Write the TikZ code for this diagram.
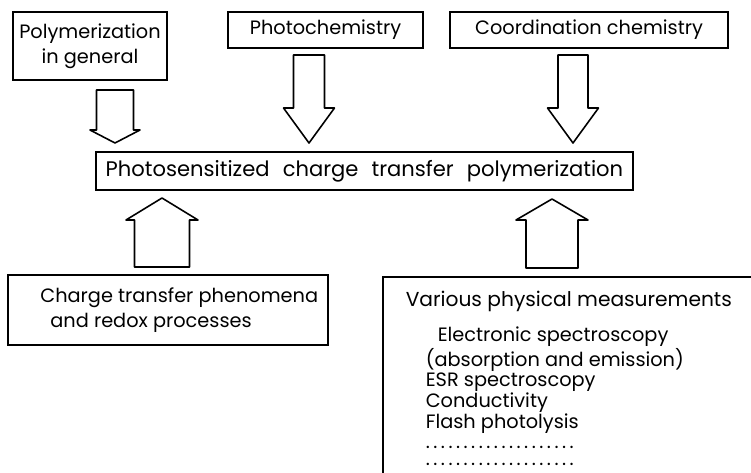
\documentclass[tikz,border=0pt]{standalone}
\usepackage{fontspec}
\setmainfont{Poppins}
\usepackage{tikz}

\newcommand{\bigarrow}[6]{%
  \draw[fatarrow] ({#1-#5},#2) -- ({#1+#5},#2) -- ({#1+#5},#3) -- ({#1+#6},#3)
    -- (#1,#4) -- ({#1-#6},#3) -- ({#1-#5},#3) -- cycle;}
\newcommand{\dotrow}{\foreach \d in {1,...,20}{.\kern2pt}}
\newcommand{\wsp}{\hspace{0.15cm} }

\begin{document}
\begin{tikzpicture}[
  x=0.02cm, y=-0.02cm,
  line width=0.9pt,
  box/.style={rectangle,draw,inner sep=0pt,font=\fontsize{11}{14.5}\selectfont},
  txt/.style={inner sep=0pt,font=\fontsize{11}{11.7}\selectfont},
  fatarrow/.style={draw,fill=white,line join=round}
]
  \useasboundingbox (0,0) rectangle (751,473);
  \node[box,minimum width=3.08cm,minimum height=1.36cm,align=center] (poly) at (90,46) {Polymerization\\in general};
  \node[box,minimum width=3.9cm,minimum height=0.72cm] (photo) at (325.5,30) {Photochemistry};
  \node[box,minimum width=5.56cm,minimum height=0.72cm] (coord) at (589,30) {Coordination chemistry};
  \node[box,minimum width=10.74cm,minimum height=0.76cm,font=\fontsize{12}{14}\selectfont] (main) at (364.5,171) {Photosensitized\wsp charge\wsp transfer\wsp polymerization};
  \node[box,minimum width=6.4cm,minimum height=1.4cm,align=left] (charge) at (168,310) {\hspace{0.45cm}Charge transfer phenomena\\\hspace{0.65cm}and redox processes};
  \node[box,anchor=north west,minimum width=8.4cm,minimum height=5cm] (meas) at (382,276) {};
  \node[txt,anchor=base west,font=\fontsize{11.5}{12}\selectfont] (meastitle) at (405,306) {Various physical measurements};
  \node[txt,anchor=north west,align=left] (methods) at (425,326) {\hspace{0.24cm}Electronic spectroscopy\\(absorption and emission)\\ESR spectroscopy\\Conductivity\\Flash photolysis\\\dotrow\\[-2pt]\dotrow};
  \bigarrow{115}{90}{130}{143}{18.5}{25}
  \bigarrow{309}{55}{108}{143}{15.5}{25.5}
  \bigarrow{573}{55}{108}{143}{15}{25.5}
  \bigarrow{162}{267}{220}{198}{27.5}{36}
  \bigarrow{552}{268}{220}{199}{26}{36}
\end{tikzpicture}
\end{document}
